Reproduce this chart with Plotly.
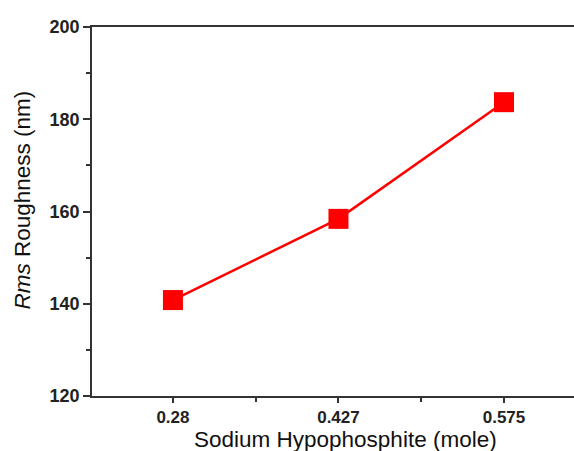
import plotly.graph_objects as go

categories = ["0.28", "0.427", "0.575"]
roughness = [140.8, 158.4, 183.7]
y_ticks = [120, 140, 160, 180, 200]
x_title = "Sodium Hypophosphite (mole)"
y_title = "<i>Rms</i> Roughness (nm)"

xpos = list(range(len(categories)))

fig = go.Figure()
fig.add_trace(go.Scatter(
    x=xpos, y=roughness, mode="lines+markers",
    line=dict(color="#ff0000", width=2.5),
    marker=dict(symbol="square", size=20, color="#ff0000"),
    cliponaxis=False, showlegend=False,
))

y_tick_font = dict(family="Liberation Sans, Arial", size=18, color="#222222")
x_tick_font = dict(family="Liberation Sans, Arial", size=17, color="#222222")
title_font = dict(family="Liberation Sans, Arial", size=22.5, color="#111111")
fig.update_layout(
    width=574, height=451,
    margin=dict(l=92, r=0, t=27, b=55),
    paper_bgcolor="white", plot_bgcolor="white",
    xaxis=dict(
        range=[-0.489, 2.423], automargin=False,
        tickvals=xpos, ticktext=["<b>%s</b>" % c for c in categories],
        tickfont=x_tick_font,
        ticks="outside", ticklen=5, tickwidth=1.5, tickcolor="#333333",
        minor=dict(tickvals=[0.5, 1.5], ticks="outside", ticklen=4, tickwidth=1.5, tickcolor="#333333"),
        showline=True, linecolor="#333333", linewidth=1.5, mirror=True,
        showgrid=False, zeroline=False,
    ),
    yaxis=dict(
        range=[120, 200], automargin=False,
        tickvals=y_ticks, ticktext=["<b>%d</b>" % v for v in y_ticks],
        tickfont=y_tick_font,
        ticks="outside", ticklen=7, tickwidth=1.5, tickcolor="#333333",
        minor=dict(tickvals=[130, 150, 170, 190], ticks="outside", ticklen=4, tickwidth=1.5, tickcolor="#333333"),
        showline=True, linecolor="#333333", linewidth=1.5, mirror=False,
        showgrid=False, zeroline=False,
    ),
    annotations=[
        dict(text=x_title, font=title_font, showarrow=False,
             xref="paper", yref="paper", x=0.525, y=-0.117,
             xanchor="center", yanchor="middle"),
        dict(text=y_title, font=title_font, showarrow=False, textangle=-90,
             xref="paper", yref="paper", x=-0.145, y=0.53,
             xanchor="center", yanchor="middle"),
    ],
)

fig.write_html("out.html", config={"displayModeBar": False},
               post_script="document.body.style.margin='0';document.body.style.padding='0';")
